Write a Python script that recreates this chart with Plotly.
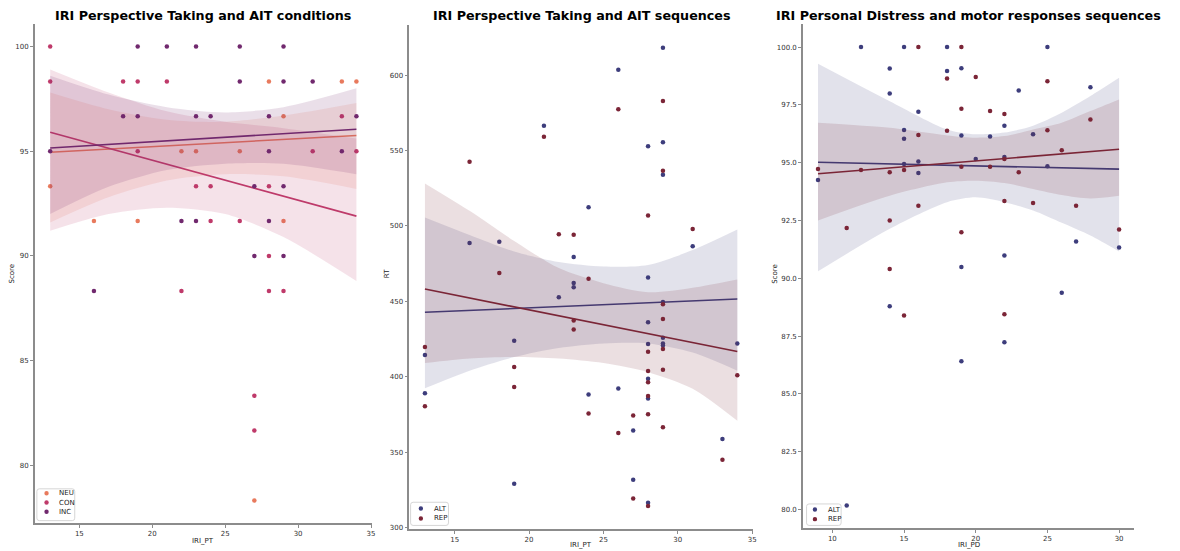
import plotly.graph_objects as go

W, H = 1180, 551

# ---------------- Panel 1: IRI_PT vs Score, by AIT condition ----------------
neu_x = [28, 33, 34, 29, 22, 23, 26, 13, 16, 19, 29, 27]
neu_y = [98.33, 98.33, 98.33, 96.67, 95.0, 95.0, 95.0, 93.33, 91.67, 91.67, 91.67, 78.33]

con_x = [13, 13, 18, 19, 21, 33, 19, 31, 34, 23, 24, 28, 24, 26, 28, 22, 28, 29, 27, 27]
con_y = [100.0, 98.33, 98.33, 98.33, 98.33, 96.67, 95.0, 95.0, 95.0, 93.33, 93.33, 93.33,
         91.67, 91.67, 90.0, 88.33, 88.33, 88.33, 83.33, 81.67]

inc_x = [19, 21, 23, 26, 29, 26, 29, 31, 18, 19, 23, 24, 28, 34, 13, 28, 33, 27, 29,
         22, 23, 28, 27, 29, 16]
inc_y = [100.0, 100.0, 100.0, 100.0, 100.0, 98.33, 98.33, 98.33, 96.67, 96.67, 96.67,
         96.67, 96.67, 96.67, 95.0, 95.0, 95.0, 93.33, 93.33, 91.67, 91.67, 91.67,
         90.0, 90.0, 88.33]

# fitted regression lines (end points) and 95% CI bands
fit1_x = [13, 34]
neu_fit = [94.95, 95.75]
con_fit = [95.9, 91.9]
inc_fit = [95.15, 96.05]

band1_x = [13, 17, 21, 25, 29, 34]
neu_up = [97.8, 97.0, 96.5, 96.4, 96.7, 97.3]
neu_lo = [91.6, 92.8, 93.6, 93.9, 93.8, 93.2]
con_up = [98.9, 97.8, 96.9, 96.4, 96.1, 95.6]
con_lo = [91.2, 92.0, 92.3, 92.0, 90.9, 88.8]
inc_up = [98.6, 97.7, 97.1, 96.85, 97.1, 98.0]
inc_lo = [92.0, 93.3, 94.1, 94.4, 94.4, 93.9]

# ---------------- Panel 2: IRI_PT vs RT, by sequence ----------------
alt2_x = [16, 18, 21, 23, 23, 23, 24, 26, 28, 28, 29, 29, 29, 31, 13, 13, 19, 19, 22,
          24, 26, 27, 27, 28, 28, 28, 28, 28, 29, 29, 29, 29, 33, 34]
alt2_y = [488.6, 489.5, 566.4, 479.4, 462.1, 459.3, 512.4, 603.5, 552.8, 465.8, 618.2,
          555.4, 533.9, 486.5, 414.3, 389.0, 423.8, 328.9, 452.6, 388.1, 392.1, 364.3,
          331.7, 436.1, 421.6, 398.7, 385.5, 316.3, 449.6, 425.8, 422.0, 420.7, 358.6, 422.0]

rep2_x = [16, 18, 21, 22, 23, 24, 26, 28, 29, 29, 31, 13, 13, 19, 19, 23, 23, 24, 26,
          27, 27, 28, 28, 28, 28, 28, 28, 29, 29, 29, 29, 29, 33, 34]
rep2_y = [542.5, 468.7, 559.1, 494.4, 494.1, 465.0, 577.4, 506.9, 582.9, 536.5, 497.9,
          419.6, 380.4, 406.4, 393.2, 437.2, 431.3, 375.6, 362.6, 374.2, 319.2, 416.5,
          403.7, 396.3, 387.2, 375.1, 314.3, 448.0, 438.3, 418.3, 404.6, 366.5, 344.9, 400.9]

fit2_x = [13, 34]
alt2_fit = [442.7, 451.5]
rep2_fit = [458.1, 416.7]

band2_x = [13, 16, 19, 22, 25, 28, 31, 34]
alt2_up = [505.6, 494.0, 483.0, 476.0, 473.0, 474.0, 484.0, 497.6]
alt2_lo = [392.3, 404.0, 413.0, 419.0, 422.0, 422.0, 416.0, 404.0]
rep2_up = [528.2, 510.0, 490.0, 472.0, 462.0, 456.0, 459.0, 464.5]
rep2_lo = [409.0, 412.0, 413.0, 412.0, 409.0, 403.0, 392.0, 370.7]

# ---------------- Panel 3: IRI_PD vs Score, by motor sequence ----------------
alt3_x = [9, 12, 14, 14, 15, 15, 15, 15, 16, 16, 16, 18, 18, 19, 19, 19, 20, 21, 22, 22,
          22, 23, 24, 25, 25, 27, 28, 30, 14, 19, 22, 26, 11]
alt3_y = [94.25, 100.0, 99.07, 97.99, 100.0, 96.41, 96.04, 94.94, 97.2, 95.05, 94.55,
          100.0, 98.97, 99.08, 96.18, 90.49, 95.16, 96.13, 96.6, 95.25, 90.99, 98.12,
          96.23, 100.0, 94.85, 91.59, 98.26, 91.33, 88.79, 86.41, 87.24, 89.37, 80.17]

rep3_x = [9, 11, 12, 14, 14, 14, 15, 16, 16, 16, 18, 18, 19, 19, 19, 19, 20, 21, 21, 22,
          22, 22, 23, 24, 25, 25, 26, 27, 28, 30, 15, 22]
rep3_y = [94.73, 92.18, 94.68, 94.59, 92.5, 90.4, 94.68, 100.0, 96.2, 93.14, 98.64, 96.38,
          100.0, 97.33, 94.82, 91.99, 98.71, 97.23, 94.82, 97.1, 95.16, 93.34, 94.59,
          93.26, 98.52, 96.4, 95.54, 93.14, 96.87, 92.11, 88.39, 88.45]

fit3_x = [9, 30]
alt3_fit = [95.02, 94.72]
rep3_fit = [94.52, 95.58]

band3_x = [9, 14, 18, 20, 22, 24, 26, 28, 30]
alt3_up = [99.28, 97.66, 96.44, 96.23, 96.3, 96.6, 97.16, 97.88, 98.67]
alt3_lo = [90.3, 92.14, 93.29, 93.5, 93.29, 92.93, 92.4, 91.85, 91.16]
rep3_up = [96.73, 96.51, 96.18, 96.08, 96.15, 96.44, 96.73, 97.23, 97.73]
rep3_lo = [92.5, 93.57, 94.15, 94.22, 94.12, 93.86, 93.6, 93.45, 93.57]

# ---------------- styling ----------------
COL = {
    "NEU": (232, 122, 93),
    "CON": (191, 58, 106),
    "INC": (113, 41, 110),
    "ALT": (61, 61, 124),
    "REP": (123, 37, 55),
}
FONT = "DejaVu Sans"
SPINE = "#8c8c8c"


def hexcol(rgb):
    return "rgb(%d,%d,%d)" % rgb


def rgba(rgb, a):
    return "rgba(%d,%d,%d,%.3f)" % (rgb + (a,))


def px_x(p):
    return p / W


def px_y(p):
    return 1 - p / H


fig = go.Figure()


def add_group(name, xs, ys, fx, fy, bx, bup, blo, ax):
    c = COL[name]
    xa, ya = "x" + ax, "y" + ax
    fig.add_trace(go.Scatter(
        x=xs, y=ys, mode="markers", name=name, xaxis=xa, yaxis=ya, showlegend=False,
        marker=dict(size=4.5, color=hexcol(c), line=dict(width=0)),
        hoverinfo="x+y",
    ))
    fig.add_trace(go.Scatter(
        x=fx, y=fy, mode="lines", xaxis=xa, yaxis=ya, showlegend=False,
        line=dict(color=hexcol(c), width=1.6), hoverinfo="skip",
    ))
    # confidence band: lower edge, then upper edge filled down to it
    fig.add_trace(go.Scatter(
        x=bx, y=blo, mode="lines", xaxis=xa, yaxis=ya, showlegend=False,
        line=dict(width=0, shape="spline", smoothing=0.8), hoverinfo="skip",
    ))
    fig.add_trace(go.Scatter(
        x=bx, y=bup, mode="lines", xaxis=xa, yaxis=ya, showlegend=False,
        fill="tonexty", fillcolor=rgba(c, 0.15),
        line=dict(width=0, shape="spline", smoothing=0.8), hoverinfo="skip",
    ))


add_group("NEU", neu_x, neu_y, fit1_x, neu_fit, band1_x, neu_up, neu_lo, "")
add_group("CON", con_x, con_y, fit1_x, con_fit, band1_x, con_up, con_lo, "")
add_group("INC", inc_x, inc_y, fit1_x, inc_fit, band1_x, inc_up, inc_lo, "")

add_group("ALT", alt2_x, alt2_y, fit2_x, alt2_fit, band2_x, alt2_up, alt2_lo, "2")
add_group("REP", rep2_x, rep2_y, fit2_x, rep2_fit, band2_x, rep2_up, rep2_lo, "2")

add_group("ALT", alt3_x, alt3_y, fit3_x, alt3_fit, band3_x, alt3_up, alt3_lo, "3")
add_group("REP", rep3_x, rep3_y, fit3_x, rep3_fit, band3_x, rep3_up, rep3_lo, "3")

axis_common = dict(
    showgrid=False, zeroline=False, showline=True, linecolor=SPINE, linewidth=1.5,
    ticks="outside", ticklen=3, tickwidth=1, tickcolor=SPINE,
    tickfont=dict(family=FONT, size=7, color="#333333"),
)

fig.update_layout(
    xaxis=dict(domain=[px_x(35), px_x(373)], range=[11.95, 35.05],
               tickvals=[15, 20, 25, 30, 35], anchor="y", **axis_common),
    yaxis=dict(domain=[px_y(526), px_y(23.9)], range=[77.25, 101.08],
               tickvals=[80, 85, 90, 95, 100], anchor="x", **axis_common),
    xaxis2=dict(domain=[px_x(410.7), px_x(755.5)], range=[11.95, 35.05],
                tickvals=[15, 20, 25, 30, 35], anchor="y2", **axis_common),
    yaxis2=dict(domain=[px_y(531.7), px_y(24.9)], range=[299.1, 633.4],
                tickvals=[300, 350, 400, 450, 500, 550, 600], anchor="x2", **axis_common),
    xaxis3=dict(domain=[px_x(805.7), px_x(1138)], range=[7.95, 31.05],
                tickvals=[10, 15, 20, 25, 30], anchor="y3", **axis_common),
    yaxis3=dict(domain=[px_y(530.7), px_y(24.3)], range=[79.21, 100.99],
                tickvals=[80, 82.5, 85, 87.5, 90, 92.5, 95, 97.5, 100],
                tickformat=".1f", anchor="x3", **axis_common),
)

annotations = []
shapes = []

# panel titles
titles = [
    ("IRI Perspective Taking and AIT conditions", 204),
    ("IRI Perspective Taking and AIT sequences", 583),
    ("IRI Personal Distress and motor responses sequences", 972),
]
for text, cx in titles:
    annotations.append(dict(
        text="<b>%s</b>" % text, x=px_x(cx), y=px_y(16), xref="paper", yref="paper",
        xanchor="center", yanchor="middle", showarrow=False,
        font=dict(family=FONT, size=12.7, color="black"),
    ))

# axis labels
for text, cx, cy in [("IRI_PT", 204, 544), ("IRI_PT", 583, 547.5), ("IRI_PD", 972, 547.5)]:
    annotations.append(dict(
        text=text, x=px_x(cx), y=px_y(cy), xref="paper", yref="paper",
        xanchor="center", yanchor="middle", showarrow=False,
        font=dict(family=FONT, size=7, color="#222222"),
    ))

for text, cx in [("Score", 12), ("RT", 388), ("Score", 777)]:
    annotations.append(dict(
        text=text, x=px_x(cx), y=px_y(275), xref="paper", yref="paper",
        xanchor="center", yanchor="middle", showarrow=False, textangle=-90,
        font=dict(family=FONT, size=7, color="#222222"),
    ))


# compact legends in the lower-left corner of each panel
def rounded_rect(x0, y0, x1, y1, r=2.5):
    X = lambda v: px_x(v)
    Y = lambda v: px_y(v)
    return ("M %f,%f L %f,%f Q %f,%f %f,%f L %f,%f Q %f,%f %f,%f "
            "L %f,%f Q %f,%f %f,%f L %f,%f Q %f,%f %f,%f Z") % (
        X(x0 + r), Y(y0), X(x1 - r), Y(y0), X(x1), Y(y0), X(x1), Y(y0 + r),
        X(x1), Y(y1 - r), X(x1), Y(y1), X(x1 - r), Y(y1),
        X(x0 + r), Y(y1), X(x0), Y(y1), X(x0), Y(y1 - r),
        X(x0), Y(y0 + r), X(x0), Y(y0), X(x0 + r), Y(y0))


def add_legend(box, marker_x, text_x, rows, names):
    x0, y0, x1, y1 = box
    shapes.append(dict(type="path", path=rounded_rect(x0, y0, x1, y1), xref="paper",
                       yref="paper", line=dict(color="#d6d6d6", width=1),
                       fillcolor="rgba(255,255,255,0.8)", layer="above"))
    rad = 2.2
    for name, ry in zip(names, rows):
        shapes.append(dict(type="circle", xref="paper", yref="paper",
                           x0=px_x(marker_x - rad), x1=px_x(marker_x + rad),
                           y0=px_y(ry + rad), y1=px_y(ry - rad),
                           fillcolor=hexcol(COL[name]), line=dict(width=0), layer="above"))
        annotations.append(dict(
            text=name, x=px_x(text_x), y=px_y(ry), xref="paper", yref="paper",
            xanchor="left", yanchor="middle", showarrow=False,
            font=dict(family=FONT, size=7, color="#222222"),
        ))


add_legend((37, 491.5, 75, 523.5), 46.7, 57, [496, 505.3, 514.6], ["NEU", "CON", "INC"])
add_legend((412, 505, 450, 528.3), 422.3, 433, [511.3, 521.3], ["ALT", "REP"])
add_legend((809.3, 506.7, 844, 528.3), 817.7, 828.5, [512.3, 522], ["ALT", "REP"])

fig.update_layout(
    width=W, height=H, margin=dict(l=0, r=0, t=0, b=0),
    paper_bgcolor="white", plot_bgcolor="white", showlegend=False,
    annotations=annotations, shapes=shapes, hovermode="closest",
)

fig.write_html("out.html")
